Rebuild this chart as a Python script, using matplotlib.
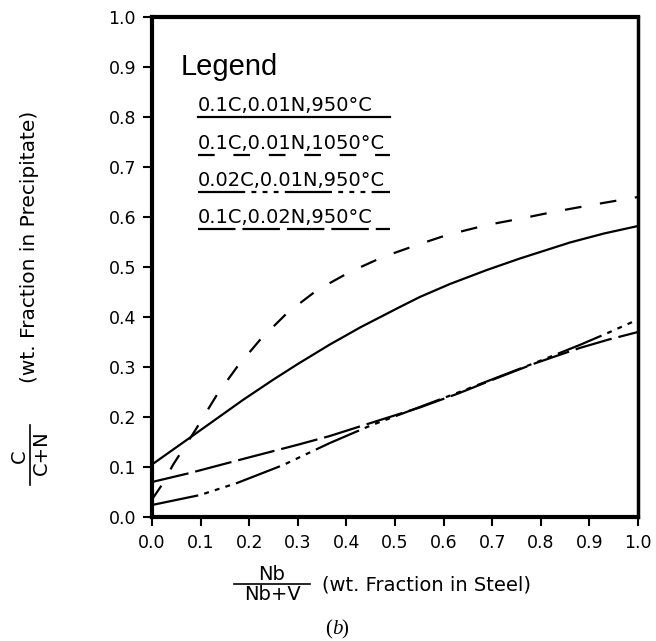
import matplotlib
matplotlib.use("Agg")
import matplotlib.pyplot as plt
from matplotlib.lines import Line2D

plt.rcParams['font.family'] = ['DejaVu Sans']
plt.rcParams['lines.scale_dashes'] = False

# Nb/(Nb+V) vs C/(C+N)
x_base = [0, 0.08, 0.187, 0.25, 0.3, 0.366, 0.43, 0.51, 0.551, 0.613, 0.689, 0.757, 0.86, 0.93, 1.0]
y_base = [0.105, 0.16, 0.234, 0.275, 0.306, 0.345, 0.38, 0.42, 0.44, 0.466, 0.494, 0.517, 0.549, 0.567, 0.582]

x_1050 = [0, 0.023, 0.043, 0.09, 0.134, 0.175, 0.222, 0.278, 0.34, 0.407, 0.475, 0.545, 0.607, 0.689, 0.76, 0.825, 0.91, 1.0]
y_1050 = [0.035, 0.068, 0.104, 0.175, 0.245, 0.30, 0.354, 0.408, 0.454, 0.49, 0.52, 0.544, 0.564, 0.584, 0.597, 0.61, 0.625, 0.64]

x_low_c = [0, 0.099, 0.175, 0.27, 0.366, 0.45, 0.551, 0.63, 0.71, 0.79, 0.88, 0.94, 1.0]
y_low_c = [0.024, 0.044, 0.068, 0.104, 0.148, 0.183, 0.22, 0.249, 0.279, 0.309, 0.344, 0.369, 0.395]

x_high_n = [0, 0.078, 0.195, 0.298, 0.366, 0.45, 0.551, 0.63, 0.71, 0.79, 0.88, 0.94, 1.0]
y_high_n = [0.07, 0.088, 0.118, 0.144, 0.162, 0.188, 0.219, 0.247, 0.278, 0.308, 0.338, 0.355, 0.37]

labels = ["0.1C,0.01N,950°C", "0.1C,0.01N,1050°C", "0.02C,0.01N,950°C", "0.1C,0.02N,950°C"]
ticks = [0.0, 0.1, 0.2, 0.3, 0.4, 0.5, 0.6, 0.7, 0.8, 0.9, 1.0]
tick_labels = ["0.0", "0.1", "0.2", "0.3", "0.4", "0.5", "0.6", "0.7", "0.8", "0.9", "1.0"]

# line styles: solid, dashed, dash-dot-dot, long dash
styles = [
    dict(linestyle='-'),
    dict(dashes=(12, 13.5)),
    dict(dashes=(34, 4.5, 3.5, 4.5, 3.5, 4.5, 3.5, 4.5)),
    dict(dashes=(27, 5)),
]


def main():
    W, H = 656, 641
    fig = plt.figure(figsize=(W / 100, H / 100), dpi=100)
    ax = fig.add_axes([152 / W, 1 - 517 / H, 486 / W, 500 / H])

    series = [(x_base, y_base), (x_1050, y_1050), (x_low_c, y_low_c), (x_high_n, y_high_n)]
    for (xs, ys), st in zip(series, styles):
        ax.plot(xs, ys, color='black', lw=1.6, solid_capstyle='butt',
                solid_joinstyle='round', **st)

    ax.set_xlim(0, 1)
    ax.set_ylim(0, 1)
    ax.set_xticks(ticks)
    ax.set_xticklabels(tick_labels)
    ax.set_yticks(ticks)
    ax.set_yticklabels(tick_labels)
    ax.tick_params(direction='out', length=6.5, width=1.5, labelsize=12.5, pad=5)
    ax.tick_params(axis='x', pad=6)
    for side in ['left', 'bottom', 'top']:
        ax.spines[side].set_linewidth(3)
    ax.spines['right'].set_linewidth(2.5)

    # legend block
    ax.text(0.058, 0.884, "Legend", fontsize=21, family='Liberation Sans',
            transform=ax.transAxes, va='baseline')
    line_y = [0.80, 0.724, 0.65, 0.576]
    for lab, ly, st in zip(labels, line_y, styles):
        ax.text(0.095, ly + 0.012, lab, fontsize=14, transform=ax.transAxes, va='baseline')
        ax.add_line(Line2D([0.095, 0.49], [ly, ly], transform=ax.transAxes,
                           color='black', lw=1.6, **st))

    # y label
    fig.text(30 / W, 1 - 383 / H, "(wt. Fraction in Precipitate)", rotation=90,
             fontsize=14.5, ha='center', va='bottom')
    fig.text(19 / W, 1 - 456 / H, "C", rotation=90, fontsize=14, ha='center', va='center')
    fig.text(41 / W, 1 - 453 / H, "C+N", rotation=90, fontsize=14, ha='center', va='center')
    fig.add_artist(Line2D([30 / W, 30 / W], [1 - 425 / H, 1 - 485 / H], color='black', lw=1.2))

    # x label
    fig.text(272 / W, 1 - 574 / H, "Nb", fontsize=14, ha='center', va='center')
    fig.text(272 / W, 1 - 595 / H, "Nb+V", fontsize=14, ha='center', va='center')
    fig.add_artist(Line2D([234 / W, 310 / W], [1 - 584 / H, 1 - 584 / H], color='black', lw=1.2))
    fig.text(322 / W, 1 - 585 / H, "(wt. Fraction in Steel)", fontsize=14, ha='left', va='center')

    fig.text(332 / W, 1 - 630 / H, "(", fontsize=15, family='Liberation Serif', ha='right', va='center')
    fig.text(332 / W, 1 - 630 / H, "b", fontsize=15, family='Liberation Serif', style='italic',
             ha='left', va='center')
    fig.text(341 / W, 1 - 630 / H, ")", fontsize=15, family='Liberation Serif', ha='left', va='center')

    fig.savefig("out.png", dpi=100)


if __name__ == "__main__":
    main()
